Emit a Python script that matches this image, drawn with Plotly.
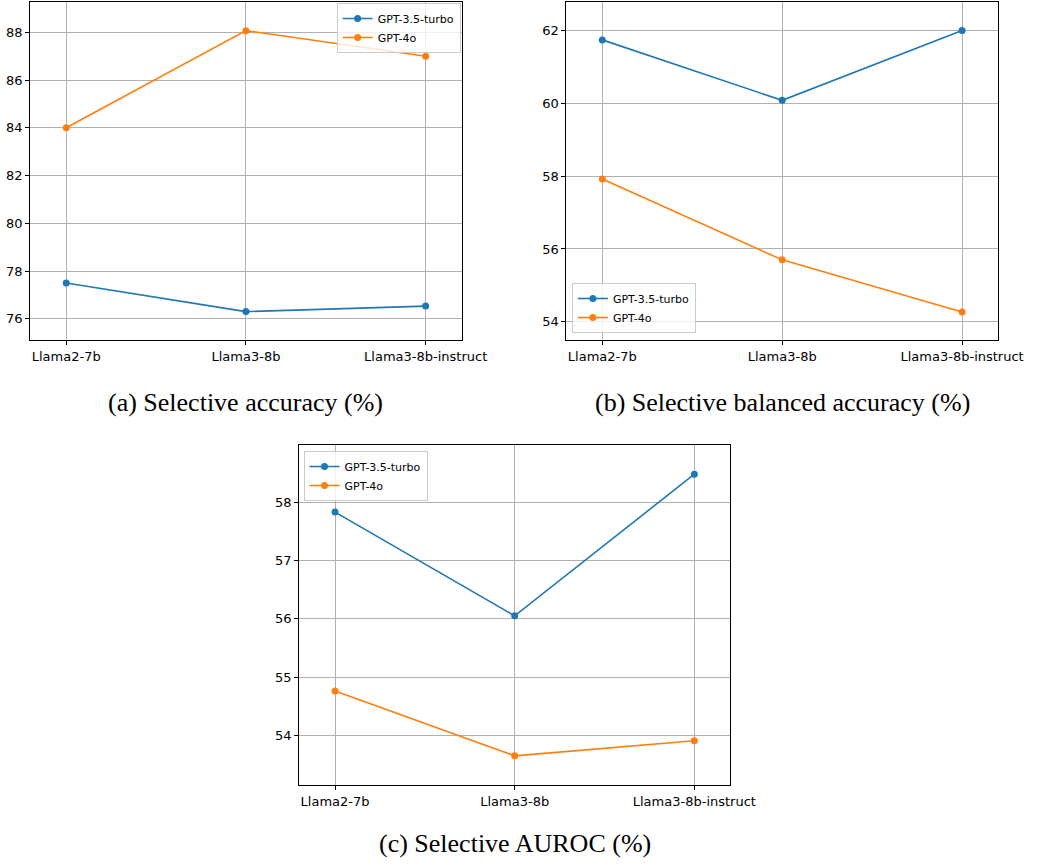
import plotly.graph_objects as go

W, H = 1038, 865

models = ["Llama2-7b", "Llama3-8b", "Llama3-8b-instruct"]
series_names = ["GPT-3.5-turbo", "GPT-4o"]
colors = ["#1f77b4", "#ff7f0e"]

acc_gpt35 = [77.5, 76.3, 76.53]
acc_gpt4o = [84.0, 88.07, 87.0]
bal_gpt35 = [61.74, 60.08, 62.0]
bal_gpt4o = [57.92, 55.70, 54.27]
auroc_gpt35 = [57.83, 56.05, 58.48]
auroc_gpt4o = [54.76, 53.65, 53.91]

captions = ["(a) Selective accuracy (%)",
            "(b) Selective balanced accuracy (%)",
            "(c) Selective AUROC (%)"]

panels = [
    dict(data=[acc_gpt35, acc_gpt4o], px=(31, 473), py=(2, 340),
         yrange=[75.11, 89.27], ytick=2, legend="legend", cap_y=402),
    dict(data=[bal_gpt35, bal_gpt4o], px=(580.3, 1022.7), py=(2, 340),
         yrange=[53.50, 62.78], ytick=2, legend="legend2", cap_y=402),
    dict(data=[auroc_gpt35, auroc_gpt4o], px=(306.5, 748.3), py=(445, 785),
         yrange=[53.15, 58.98], ytick=1, legend="legend3", cap_y=843),
]

fig = go.Figure()
layout = dict(width=W, height=H, autosize=False, margin=dict(l=0, r=0, t=0, b=0, pad=0),
              paper_bgcolor="white", plot_bgcolor="white",
              font=dict(family="DejaVu Sans", size=13, color="black"),
              annotations=[])

for i, p in enumerate(panels):
    k = "" if i == 0 else str(i + 1)
    for j in range(2):
        fig.add_trace(go.Scatter(
            x=models, y=p["data"][j], mode="lines+markers",
            name=series_names[j], legend=p["legend"],
            line=dict(color=colors[j], width=1.6),
            marker=dict(color=colors[j], size=7),
            xaxis="x" + k, yaxis="y" + k, showlegend=True))
    xd = [p["px"][0] / W, p["px"][1] / W]
    yd = [1 - p["py"][1] / H, 1 - p["py"][0] / H]
    common = dict(showline=True, mirror=True, linecolor="black", linewidth=1,
                  ticks="outside", ticklen=4, tickcolor="black", tickwidth=1,
                  showgrid=True, gridcolor="#b0b0b0", gridwidth=0.8,
                  zeroline=False, tickfont=dict(size=13, family="DejaVu Sans"))
    layout["xaxis" + k] = dict(domain=xd, anchor="y" + k, type="category",
                               categoryorder="array", categoryarray=models,
                               range=[-0.2, 2.2], **common)
    layout["yaxis" + k] = dict(domain=yd, anchor="x" + k, range=p["yrange"],
                               dtick=p["ytick"], tick0=0, **common)
    layout["annotations"].append(dict(
        text=captions[i], x=(xd[0] + xd[1]) / 2, y=1 - p["cap_y"] / H,
        xref="paper", yref="paper", xanchor="center", yanchor="middle",
        showarrow=False,
        font=dict(family="Liberation Serif, Times New Roman, serif", size=26, color="black")))

leg_common = dict(font=dict(size=11, family="DejaVu Sans"), bgcolor="rgba(255,255,255,0.8)",
                  bordercolor="#cccccc", borderwidth=1, xref="paper", yref="paper",
                  tracegroupgap=0, itemwidth=30)
layout["legend"] = dict(x=472 / W, y=1 - 3 / H, xanchor="right", yanchor="top", **leg_common)
layout["legend2"] = dict(x=586 / W, y=1 - 333 / H, xanchor="left", yanchor="bottom", **leg_common)
layout["legend3"] = dict(x=311 / W, y=1 - 451 / H, xanchor="left", yanchor="top", **leg_common)

fig.update_layout(**layout)
fig.write_html("out.html", config={"responsive": False})
